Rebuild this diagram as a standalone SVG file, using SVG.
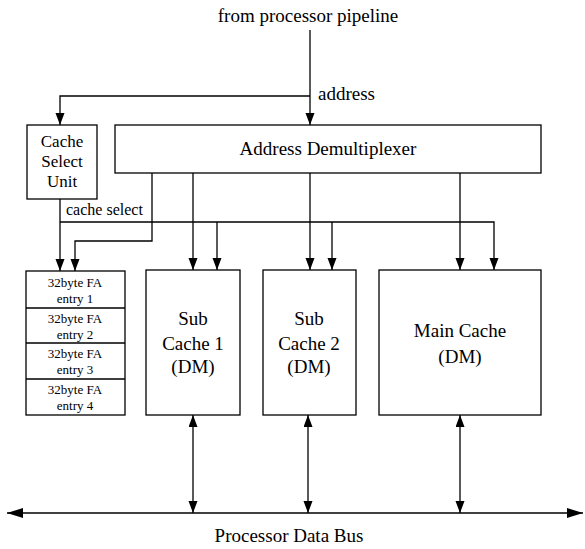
<svg xmlns="http://www.w3.org/2000/svg" width="585" height="549" viewBox="0 0 585 549">
<style>
  .box { fill: #fff; stroke: #000; stroke-width: 1.3; }
  .ln { fill: none; stroke: #000; stroke-width: 1.3; }
  text { font-family: "Liberation Serif", "Times New Roman", serif; fill: #000; }
  .c { text-anchor: middle; }
</style>
<defs>
  <marker id="ah" markerUnits="userSpaceOnUse" markerWidth="12" markerHeight="10" refX="12" refY="4.5" orient="auto-start-reverse">
    <path d="M0,0 L12,4.5 L0,9 z" fill="#000"/>
  </marker>
  <marker id="bh" markerUnits="userSpaceOnUse" markerWidth="16" markerHeight="11" refX="16" refY="5" orient="auto-start-reverse">
    <path d="M0,0 L16,5 L0,10 z" fill="#000"/>
  </marker>
</defs>

<g id="connectors">
  <path class="ln" d="M310,30 V125" marker-end="url(#ah)"/>
  <path class="ln" d="M310,96 H60 V125" marker-end="url(#ah)"/>
  <path class="ln" d="M60,199 V271" marker-end="url(#ah)"/>
  <path class="ln" d="M60,222 H494 V270" marker-end="url(#ah)"/>
  <path class="ln" d="M217,222 V270" marker-end="url(#ah)"/>
  <path class="ln" d="M332,222 V270" marker-end="url(#ah)"/>
  <path class="ln" d="M152,173 V241 H75 V271" marker-end="url(#ah)"/>
  <path class="ln" d="M193,173 V270" marker-end="url(#ah)"/>
  <path class="ln" d="M310,173 V270" marker-end="url(#ah)"/>
  <path class="ln" d="M460,173 V270" marker-end="url(#ah)"/>
  <path class="ln" d="M193,415 V513" marker-start="url(#ah)" marker-end="url(#ah)"/>
  <path class="ln" d="M308,415 V513" marker-start="url(#ah)" marker-end="url(#ah)"/>
  <path class="ln" d="M460,415 V513" marker-start="url(#ah)" marker-end="url(#ah)"/>
  <path class="ln" d="M7,513 H583" marker-start="url(#bh)" marker-end="url(#bh)"/>
</g>

<g id="labels">
  <text class="c" x="308" y="22" font-size="19">from processor pipeline</text>
  <text x="318" y="100" font-size="19">address</text>
  <text x="66" y="215" font-size="16">cache select</text>
  <text class="c" x="289" y="542" font-size="19">Processor Data Bus</text>
</g>

<g id="cache-select-unit">
  <rect class="box" x="27" y="125" width="70" height="74"/>
  <text class="c" x="62" y="147" font-size="17">Cache</text>
  <text class="c" x="62" y="167" font-size="17">Select</text>
  <text class="c" x="62" y="187" font-size="17">Unit</text>
</g>

<g id="address-demux">
  <rect class="box" x="115" y="125" width="426" height="48"/>
  <text class="c" x="328" y="155" font-size="19">Address Demultiplexer</text>
</g>

<g id="fa-buffer">
  <rect class="box" x="26" y="271" width="99" height="144"/>
  <path class="ln" d="M26,308 H125 M26,343 H125 M26,379 H125"/>
  <text class="c" x="75" y="287" font-size="13">32byte FA</text>
  <text class="c" x="75" y="303" font-size="13">entry 1</text>
  <text class="c" x="75" y="323" font-size="13">32byte FA</text>
  <text class="c" x="75" y="339" font-size="13">entry 2</text>
  <text class="c" x="75" y="358" font-size="13">32byte FA</text>
  <text class="c" x="75" y="374" font-size="13">entry 3</text>
  <text class="c" x="75" y="394" font-size="13">32byte FA</text>
  <text class="c" x="75" y="410" font-size="13">entry 4</text>
</g>

<g id="sub-cache-1">
  <rect class="box" x="146" y="270" width="94" height="145"/>
  <text class="c" x="193" y="325" font-size="19">Sub</text>
  <text class="c" x="193" y="350" font-size="19">Cache 1</text>
  <text class="c" x="193" y="373" font-size="19">(DM)</text>
</g>

<g id="sub-cache-2">
  <rect class="box" x="263" y="270" width="93" height="145"/>
  <text class="c" x="309" y="325" font-size="19">Sub</text>
  <text class="c" x="309" y="350" font-size="19">Cache 2</text>
  <text class="c" x="309" y="373" font-size="19">(DM)</text>
</g>

<g id="main-cache">
  <rect class="box" x="379" y="270" width="162" height="145"/>
  <text class="c" x="460" y="337" font-size="19">Main Cache</text>
  <text class="c" x="460" y="363" font-size="19">(DM)</text>
</g>
</svg>
